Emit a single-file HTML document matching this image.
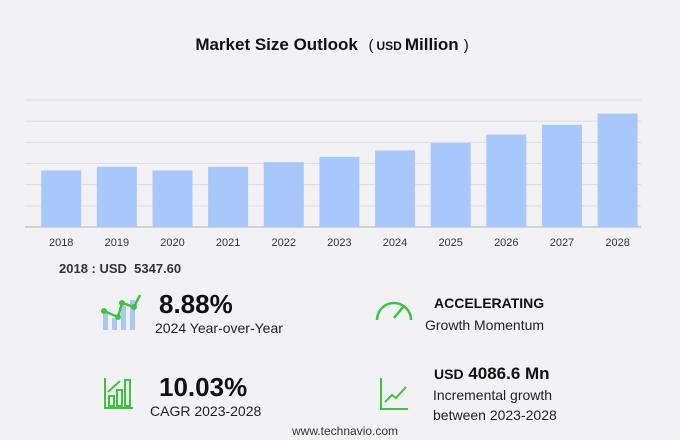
<!DOCTYPE html>
<html><head><meta charset="utf-8"><style>
body{margin:0;width:680px;height:440px;background:#f2f2f4;font-family:"Liberation Sans",sans-serif;overflow:hidden}
svg{display:block}
</style></head><body>
<svg id="c" width="680" height="440">
<rect x="0" y="0" width="680" height="440" fill="#f2f2f4"/>
<text x="332" y="50" text-anchor="middle" font-size="17" font-weight="bold" fill="#111">Market Size Outlook <tspan font-size="15" font-weight="normal" dx="6">(</tspan><tspan font-size="12" dx="3">USD</tspan><tspan dx="3">Million</tspan><tspan font-size="15" font-weight="normal" dx="5">)</tspan></text>
<g id="grid"></g><g id="bars"></g><g id="xlabels"></g>
<text x="59" y="273" font-size="13" font-weight="bold" fill="#333">2018 : USD&#160;&#160;5347.60</text>

<g>
<rect x="103" y="312" width="5" height="18" fill="#a8c8f8"/><rect x="112" y="318" width="5" height="12" fill="#a8c8f8"/><rect x="121" y="306" width="5" height="24" fill="#a8c8f8"/><rect x="130" y="300" width="5" height="30" fill="#a8c8f8"/>
<polyline points="104,311 118,317 122,303 134,307 140,295" fill="none" stroke="#3cc43c" stroke-width="2.5"/>
<circle cx="104" cy="311" r="3" fill="#3cc43c"/><circle cx="118" cy="317" r="3" fill="#3cc43c"/><circle cx="122" cy="303" r="3" fill="#3cc43c"/><circle cx="134" cy="307" r="3" fill="#3cc43c"/>
</g>
<text x="159" y="313" font-size="26" font-weight="bold" fill="#111">8.88%</text>
<text x="155" y="333" font-size="14" fill="#222">2024 Year-over-Year</text>

<g fill="none" stroke="#3cc43c" stroke-width="2.5">
<path d="M377,320 A17,17 0 0 1 411,320"/><line x1="394" y1="318" x2="404" y2="306"/>
</g>
<text x="434" y="308" font-size="14" font-weight="bold" fill="#111">ACCELERATING</text>
<text x="425" y="330" font-size="14" fill="#222">Growth Momentum</text>

<g fill="none" stroke="#3cc43c" stroke-width="2">
<polyline points="105,378 105,408 133,408"/><rect x="109" y="396" width="5" height="10"/><rect x="117" y="390" width="5" height="16"/><rect x="125" y="380" width="5" height="26"/><line x1="108" y1="392" x2="120" y2="381"/>
</g>
<text x="159" y="396" font-size="26" font-weight="bold" fill="#111">10.03%</text>
<text x="150" y="416" font-size="14" fill="#222">CAGR 2023-2028</text>

<g fill="none" stroke="#3cc43c" stroke-width="2">
<polyline points="381,378 381,409 408,409"/><polyline points="385,402 392,395 396,398 406,387"/>
</g>
<text x="434" y="379" font-size="17" font-weight="bold" fill="#111"><tspan font-size="14">USD</tspan> 4086.6 Mn</text>
<text x="433" y="400" font-size="14" fill="#222">Incremental growth</text>
<text x="433" y="420" font-size="14" fill="#222">between 2023-2028</text>
<text x="292" y="435" font-size="12" fill="#333">www.technavio.com</text>
</svg>
<script>
const categories=["2018","2019","2020","2021","2022","2023","2024","2025","2026","2027","2028"];
const values=[5347.6,5690,5347,5690,6130,6630,7230,7950,8740,9650,10720];
const yTicks=[0,2000,4000,6000,8000,10000,12000];
const NS="http://www.w3.org/2000/svg";
const y0=227,yTop=100,yMax=12000;
function yScale(v){return y0-(v/yMax)*(y0-yTop);}
function xScale(i){return 41.2+i*55.64;}
const bw=40;
const g=document.getElementById('grid'),b=document.getElementById('bars'),xl=document.getElementById('xlabels');
yTicks.forEach(t=>{const l=document.createElementNS(NS,'line');
l.setAttribute('x1',25);l.setAttribute('x2',641);l.setAttribute('y1',yScale(t));l.setAttribute('y2',yScale(t));
l.setAttribute('stroke',t===0?'#c8c8cc':'#dcdce0');l.setAttribute('stroke-width',t===0?1.5:1);


g.appendChild(l);});
values.forEach((v,i)=>{const r=document.createElementNS(NS,'rect');
r.setAttribute('x',xScale(i));r.setAttribute('y',yScale(v));r.setAttribute('width',bw);r.setAttribute('height',y0-yScale(v));r.setAttribute('fill','#a8c8fc');


b.appendChild(r);
const t=document.createElementNS(NS,'text');
t.setAttribute('x',xScale(i)+bw/2);t.setAttribute('y',246);t.setAttribute('text-anchor','middle');t.setAttribute('font-size','11');t.setAttribute('fill','#333');
t.textContent=categories[i];


xl.appendChild(t);});
</script>
</body></html>
